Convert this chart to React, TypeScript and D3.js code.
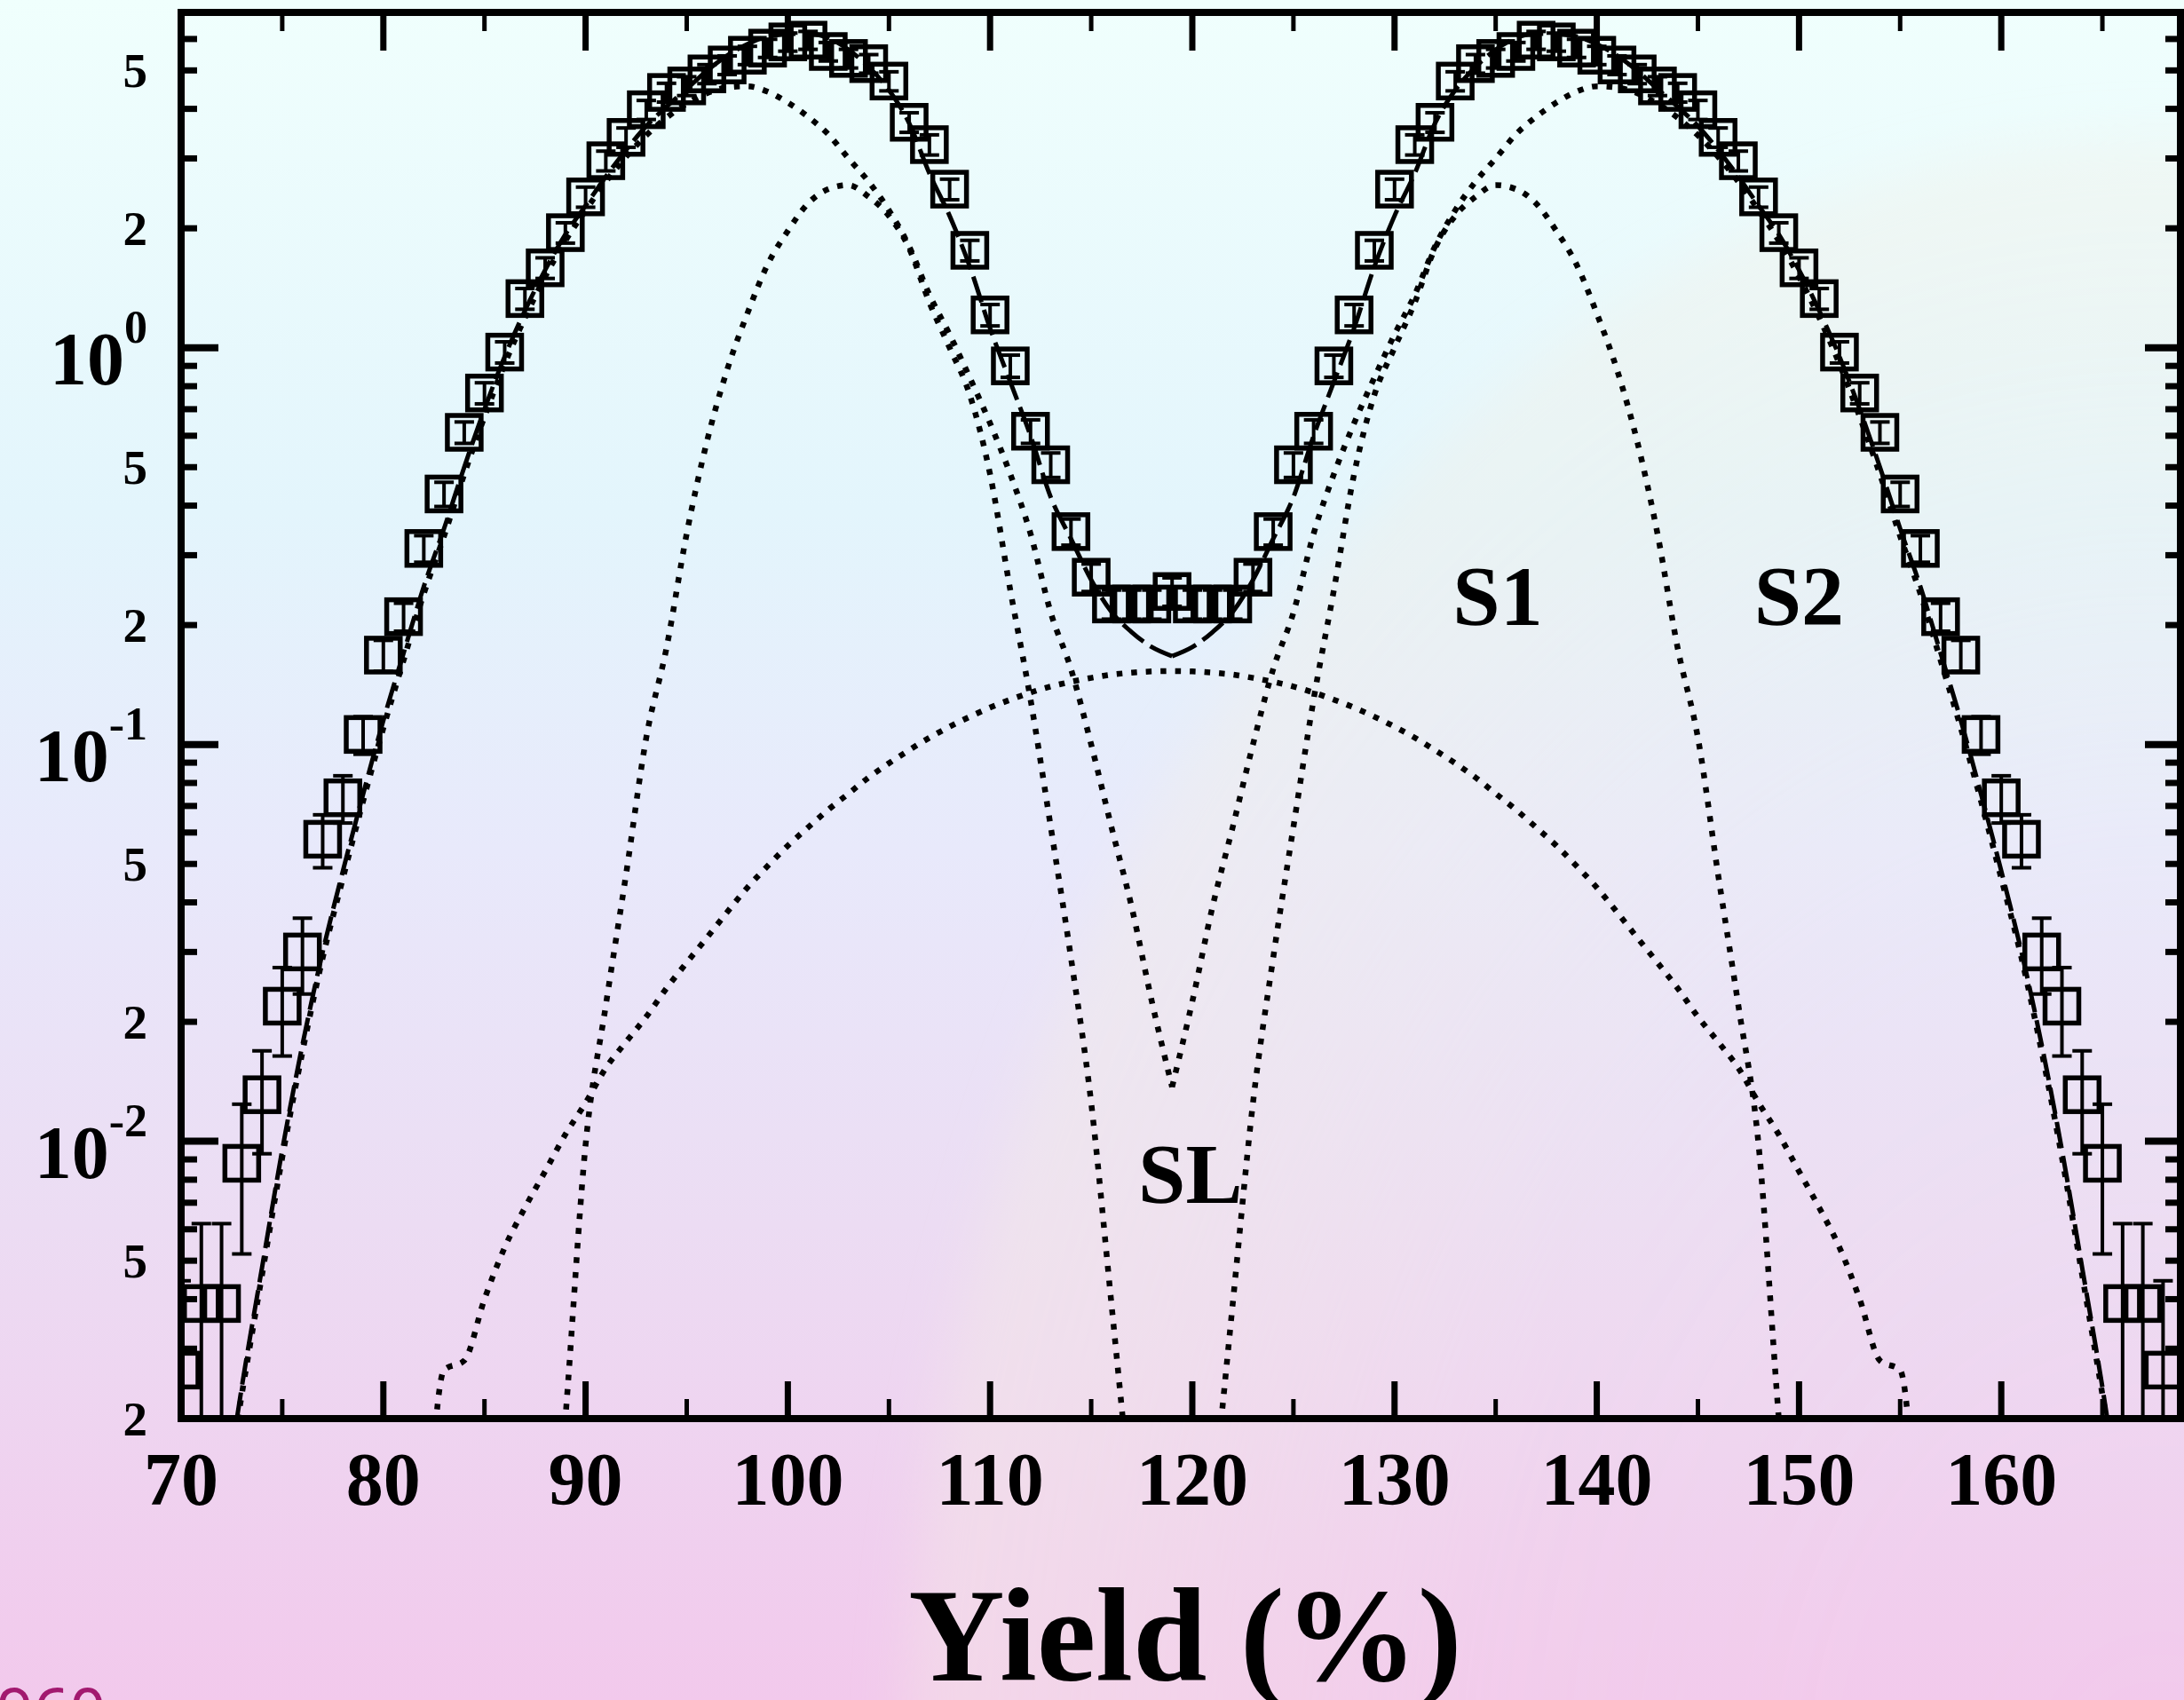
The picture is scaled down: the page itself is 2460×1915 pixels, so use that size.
import React, { useEffect, useRef } from 'react';
import * as d3 from 'd3';

// measured yield, one point per integer position 70..168
const positions = d3.range(70, 169);
const yieldValues = [
  0.00265, 0.0039, 0.0039, 0.0088, 0.0131, 0.0219, 0.030, 0.0577, 0.0734, 0.106,
  0.168, 0.21, 0.312, 0.428, 0.612, 0.769, 0.975, 1.33, 1.59, 1.95,
  2.40, 2.96, 3.39, 3.98, 4.40, 4.57, 4.90, 5.16, 5.46, 5.69,
  5.90, 5.96, 5.58, 5.36, 5.20, 4.70, 3.70, 3.25, 2.51, 1.76,
  1.21, 0.90, 0.616, 0.507, 0.344, 0.264, 0.226, 0.226, 0.226, 0.243,
  0.226, 0.226, 0.226, 0.264, 0.344, 0.507, 0.616, 0.90, 1.21, 1.76,
  2.51, 3.25, 3.70, 4.70, 5.20, 5.36, 5.58, 5.96, 5.90, 5.69,
  5.46, 5.16, 4.90, 4.57, 4.40, 3.98, 3.39, 2.96, 2.40, 1.95,
  1.59, 1.33, 0.975, 0.769, 0.612, 0.428, 0.312, 0.21, 0.168, 0.106,
  0.0734, 0.0577, 0.030, 0.0219, 0.0131, 0.0088, 0.0039, 0.0039, 0.00265,
];
const yieldErrors = [
  0.0018, 0.0023, 0.0023, 0.0036, 0.0038, 0.0055, 0.0065, 0.0088, 0.0100, 0.0115,
  0.015, 0.017, 0.024, 0.030, 0.038, 0.047, 0.060, 0.080, 0.095, 0.115,
  0.14, 0.17, 0.19, 0.22, 0.24, 0.25, 0.27, 0.28, 0.29, 0.30,
  0.31, 0.31, 0.30, 0.29, 0.28, 0.26, 0.21, 0.19, 0.15, 0.105,
  0.075, 0.058, 0.042, 0.036, 0.026, 0.021, 0.019, 0.019, 0.019, 0.020,
  0.019, 0.019, 0.019, 0.021, 0.026, 0.036, 0.042, 0.058, 0.075, 0.105,
  0.15, 0.19, 0.21, 0.26, 0.28, 0.29, 0.30, 0.31, 0.31, 0.30,
  0.29, 0.28, 0.27, 0.25, 0.24, 0.22, 0.19, 0.17, 0.14, 0.115,
  0.095, 0.080, 0.060, 0.047, 0.038, 0.030, 0.024, 0.017, 0.015, 0.0115,
  0.0100, 0.0088, 0.0065, 0.0055, 0.0038, 0.0036, 0.0023, 0.0023, 0.0018,
];

// fit curves at integer positions
const fitX = d3.range(72, 167);
const fitTotal = [
  0.0011, 0.0024, 0.0048, 0.0095, 0.0175, 0.030, 0.048, 0.075,
  0.115, 0.17, 0.25, 0.35, 0.50, 0.70, 0.95, 1.24, 1.57, 1.93,
  2.28, 2.70, 3.15, 3.62, 4.05, 4.49, 4.99, 5.45, 5.82, 6.09,
  6.17, 6.19, 6.03, 5.64, 5.10, 4.46, 3.68, 2.75, 2.15, 1.60,
  1.12, 0.82, 0.60, 0.42, 0.33, 0.26, 0.216, 0.192, 0.176, 0.167,
  0.176, 0.192, 0.216, 0.26, 0.33, 0.42, 0.60, 0.82, 1.12, 1.60,
  2.15, 2.75, 3.68, 4.46, 5.10, 5.64, 6.03, 6.19, 6.17, 6.09,
  5.82, 5.45, 4.99, 4.49, 4.05, 3.62, 3.15, 2.70, 2.28, 1.93,
  1.57, 1.24, 0.95, 0.70, 0.50, 0.35, 0.25, 0.17, 0.115, 0.075,
  0.048, 0.030, 0.0175, 0.0095, 0.0048, 0.0024, 0.0011,
];
const s1Values = [
  0.0011, 0.0023, 0.0046, 0.0091, 0.0168, 0.029, 0.046, 0.072,
  0.110, 0.163, 0.240, 0.335, 0.48, 0.67, 0.91, 1.19, 1.51, 1.86,
  2.22, 2.62, 3.03, 3.43, 3.80, 4.12, 4.38, 4.53, 4.56, 4.42,
  4.15, 3.82, 3.45, 3.00, 2.62, 2.22, 1.80, 1.36, 1.08, 0.84,
  0.645, 0.48, 0.34, 0.215, 0.155, 0.100, 0.062, 0.039, 0.0225, 0.0137,
  0.0225, 0.039, 0.062, 0.100, 0.155, 0.215, 0.34, 0.48, 0.645, 0.84,
  1.08, 1.36, 1.80, 2.22, 2.62, 3.00, 3.45, 3.82, 4.15, 4.42,
  4.56, 4.53, 4.38, 4.12, 3.80, 3.43, 3.03, 2.62, 2.22, 1.86,
  1.51, 1.19, 0.91, 0.67, 0.48, 0.335, 0.240, 0.163, 0.110, 0.072,
  0.046, 0.029, 0.0168, 0.0091, 0.0046, 0.0023, 0.0011,
];
const s2X = d3.range(88, 151);
const s2Values = [
  0.0005, 0.0020,
  0.0098, 0.022, 0.047, 0.104, 0.175, 0.34, 0.58, 0.88, 1.22, 1.62,
  1.97, 2.31, 2.51, 2.57, 2.40, 2.15, 1.78, 1.30, 1.00, 0.76,
  0.48, 0.245, 0.13, 0.062, 0.029, 0.0125, 0.0039, 0.0012, 0.0004, 0.0002,
  0.0004, 0.0012, 0.0039, 0.0125, 0.029, 0.062, 0.13, 0.245, 0.48, 0.76,
  1.00, 1.30, 1.78, 2.15, 2.40, 2.57, 2.51, 2.31, 1.97, 1.62,
  1.22, 0.88, 0.58, 0.34, 0.175, 0.104, 0.047, 0.022, 0.0098, 0.0020,
  0.0005,
];
const slX = d3.range(82, 157);
const slValues = [
  0.0007, 0.00265, 0.0028, 0.0040, 0.0054, 0.0068, 0.0084, 0.0104,
  0.0125, 0.0153, 0.0178, 0.0206, 0.0243, 0.0282, 0.0326, 0.0378, 0.0436, 0.0494,
  0.0556, 0.0618, 0.0685, 0.0752, 0.0826, 0.0897, 0.0968, 0.1040, 0.1109, 0.1175,
  0.1239, 0.1297, 0.1352, 0.1400, 0.1439, 0.1472, 0.1500, 0.1517, 0.1528, 0.1531,
  0.1528, 0.1517, 0.1500, 0.1472, 0.1439, 0.1400, 0.1352, 0.1297, 0.1239, 0.1175,
  0.1109, 0.1040, 0.0968, 0.0897, 0.0826, 0.0752, 0.0685, 0.0618, 0.0556, 0.0494,
  0.0436, 0.0378, 0.0326, 0.0282, 0.0243, 0.0206, 0.0178, 0.0153, 0.0125, 0.0104,
  0.0084, 0.0068, 0.0054, 0.0040, 0.0028, 0.00265, 0.0007,
];
const valleyX = 119;

const xMajorTicks = [70, 80, 90, 100, 110, 120, 130, 140, 150, 160];
const xMinorTicks = [75, 85, 95, 105, 115, 125, 135, 145, 155, 165];
const yDecades = [0.01, 0.1, 1];
const yDecadeExp = ['-2', '-1', '0'];
const yMinor = [
  0.002, 0.003, 0.004, 0.005, 0.006, 0.007, 0.008, 0.009,
  0.02, 0.03, 0.04, 0.05, 0.06, 0.07, 0.08, 0.09,
  0.2, 0.3, 0.4, 0.5, 0.6, 0.7, 0.8, 0.9,
  2, 3, 4, 5, 6,
];
const yMinorLabelled = [0.002, 0.005, 0.02, 0.05, 0.2, 0.5, 2, 5];

const curveLabels = ['S1', 'S2', 'SL'];
const curveLabelX = [135.1, 150.0, 119.9];
const curveLabelY = [0.2, 0.2, 0.007];

const W = 2460;
const H = 1915;
const plot = { left: 204, right: 2456, top: 14, bottom: 1598 };
const serif = "'Liberation Serif', 'Times New Roman', serif";

export default function App() {
  const svgRef = useRef<SVGSVGElement>(null);

  useEffect(() => {
    document.body.style.margin = '0';
    const svg = d3.select(svgRef.current);
    svg.selectAll('*').remove();

    const x = d3.scaleLinear().domain([70, 168.86]).range([plot.left, plot.right]);
    const y = d3.scaleLog().domain([0.002, 7]).range([plot.bottom, plot.top]);

    // background
    const defs = svg.append('defs');
    const bg = defs.append('linearGradient').attr('id', 'bg')
      .attr('x1', 0).attr('y1', 0).attr('x2', 0).attr('y2', 1);
    [['0', '#f0fffd'], ['0.3', '#e3f5fc'], ['0.5', '#e8e9fb'], ['0.72', '#ecdcf3'], ['1', '#f2c9ec']]
      .forEach(([o, c]) => bg.append('stop').attr('offset', o).attr('stop-color', c));
    const warm = defs.append('radialGradient').attr('id', 'warm');
    [['0', 0], ['0.55', 0.08], ['0.85', 0.3], ['1', 0.36]]
      .forEach(([o, a]) => warm.append('stop').attr('offset', o as string)
        .attr('stop-color', '#f5efe4').attr('stop-opacity', a as number));
    defs.append('filter').attr('id', 'soft')
      .attr('x', '-20%').attr('y', '-20%').attr('width', '140%').attr('height', '140%')
      .append('feGaussianBlur').attr('stdDeviation', 30);
    defs.append('clipPath').attr('id', 'plotClip').append('rect')
      .attr('x', plot.left).attr('y', plot.top)
      .attr('width', plot.right - plot.left).attr('height', plot.bottom - plot.top);

    svg.append('rect').attr('width', W).attr('height', H).attr('fill', 'url(#bg)');
    svg.append('ellipse')
      .attr('cx', 2432).attr('cy', 2040).attr('rx', 1412).attr('ry', 1883)
      .attr('fill', 'url(#warm)').attr('filter', 'url(#soft)');

    const g = svg.append('g').attr('clip-path', 'url(#plotClip)');

    const line = d3.line<[number, number]>()
      .x(d => x(d[0]))
      .y(d => y(d[1]))
      .curve(d3.curveMonotoneX);

    const pairs = (xs: number[], vs: number[]) => xs.map((xi, i) => [xi, vs[i]] as [number, number]);
    const halves = (xs: number[], vs: number[]) => {
      const p = pairs(xs, vs);
      return [p.filter(d => d[0] <= valleyX), p.filter(d => d[0] >= valleyX)];
    };

    const dotted = { width: 6.5, dash: '6.5 10' };

    // SL component
    g.append('path').attr('d', line(pairs(slX, slValues)))
      .attr('fill', 'none').attr('stroke', '#000')
      .attr('stroke-width', dotted.width).attr('stroke-dasharray', dotted.dash);

    // S1 and S2 components, each mirrored about the valley
    [halves(fitX, s1Values), halves(s2X, s2Values)].forEach(hs => hs.forEach(h => {
      g.append('path').attr('d', line(h))
        .attr('fill', 'none').attr('stroke', '#000')
        .attr('stroke-width', dotted.width).attr('stroke-dasharray', dotted.dash);
    }));

    // total fit
    halves(fitX, fitTotal).forEach(h => {
      g.append('path').attr('d', line(h))
        .attr('fill', 'none').attr('stroke', '#000')
        .attr('stroke-width', 5).attr('stroke-dasharray', '30 9');
    });

    // data: error bars and open squares
    const pts = positions.map((p, i) => ({ p, v: yieldValues[i], e: yieldErrors[i] }));
    const cap = 11;
    const eb = g.append('g').attr('stroke', '#000').attr('stroke-width', 4);
    pts.forEach(d => {
      const cx = x(d.p);
      const lo = y(Math.max(d.v - d.e, 0.0004));
      const hi = y(d.v + d.e);
      eb.append('line').attr('x1', cx).attr('x2', cx).attr('y1', lo).attr('y2', hi);
      eb.append('line').attr('x1', cx - cap).attr('x2', cx + cap).attr('y1', lo).attr('y2', lo);
      eb.append('line').attr('x1', cx - cap).attr('x2', cx + cap).attr('y1', hi).attr('y2', hi);
    });
    g.append('g').selectAll('rect').data(pts).enter().append('rect')
      .attr('x', d => x(d.p) - 19)
      .attr('y', d => y(d.v) - 19)
      .attr('width', 38).attr('height', 38)
      .attr('fill', 'none').attr('stroke', '#000').attr('stroke-width', 5.5);

    // frame and ticks
    const ax = svg.append('g').attr('stroke', '#000');
    xMajorTicks.forEach(t => {
      ax.append('line').attr('x1', x(t)).attr('x2', x(t)).attr('y1', plot.bottom).attr('y2', plot.bottom - 42).attr('stroke-width', 7);
      ax.append('line').attr('x1', x(t)).attr('x2', x(t)).attr('y1', plot.top).attr('y2', plot.top + 43).attr('stroke-width', 7);
    });
    xMinorTicks.forEach(t => {
      ax.append('line').attr('x1', x(t)).attr('x2', x(t)).attr('y1', plot.bottom).attr('y2', plot.bottom - 22).attr('stroke-width', 5);
      ax.append('line').attr('x1', x(t)).attr('x2', x(t)).attr('y1', plot.top).attr('y2', plot.top + 21).attr('stroke-width', 5);
    });
    yDecades.forEach(t => {
      ax.append('line').attr('x1', plot.left).attr('x2', plot.left + 42).attr('y1', y(t)).attr('y2', y(t)).attr('stroke-width', 8);
      ax.append('line').attr('x1', plot.right).attr('x2', plot.right - 40).attr('y1', y(t)).attr('y2', y(t)).attr('stroke-width', 8);
    });
    yMinor.forEach(t => {
      ax.append('line').attr('x1', plot.left).attr('x2', plot.left + 18).attr('y1', y(t)).attr('y2', y(t)).attr('stroke-width', 7);
      ax.append('line').attr('x1', plot.right).attr('x2', plot.right - 17).attr('y1', y(t)).attr('y2', y(t)).attr('stroke-width', 7);
    });
    ax.append('rect')
      .attr('x', plot.left).attr('y', plot.top)
      .attr('width', plot.right - plot.left).attr('height', plot.bottom - plot.top)
      .attr('fill', 'none').attr('stroke-width', 8);

    // tick labels
    const txt = svg.append('g').attr('font-family', serif).attr('font-weight', 'bold').attr('fill', '#000');
    xMajorTicks.forEach(t => {
      txt.append('text').attr('x', x(t)).attr('y', 1695)
        .attr('text-anchor', 'middle').attr('font-size', 84).text(String(t));
    });
    yMinorLabelled.forEach(t => {
      txt.append('text').attr('x', 166).attr('y', y(t) + 19)
        .attr('text-anchor', 'end').attr('font-size', 55)
        .text(String(t).replace(/^0\.0*/, ''));
    });
    yDecades.forEach((t, i) => {
      const tx = txt.append('text').attr('x', 166).attr('y', y(t) + 41).attr('text-anchor', 'end');
      tx.append('tspan').attr('font-size', 84).text('10');
      tx.append('tspan').attr('font-size', 52).attr('dy', -47).text(yDecadeExp[i]);
    });

    // curve labels
    curveLabels.forEach((l, i) => {
      txt.append('text').attr('x', x(curveLabelX[i])).attr('y', y(curveLabelY[i]))
        .attr('text-anchor', 'middle').attr('font-size', 96).text(l);
    });

    // axis title
    txt.append('text').attr('x', 1335).attr('y', 1893)
      .attr('text-anchor', 'middle').attr('font-size', 150).text('Yield (%)');

    // page number peeking in at the bottom edge
    svg.append('text').attr('x', -4).attr('y', 1953)
      .attr('font-family', "'Noto Sans', sans-serif").attr('font-size', 72)
      .attr('fill', '#a2196f').text('960');
  }, []);

  return (
    <svg
      ref={svgRef}
      width={W}
      height={H}
      style={{ display: 'block', position: 'absolute', left: 0, top: 0 }}
    />
  );
}
